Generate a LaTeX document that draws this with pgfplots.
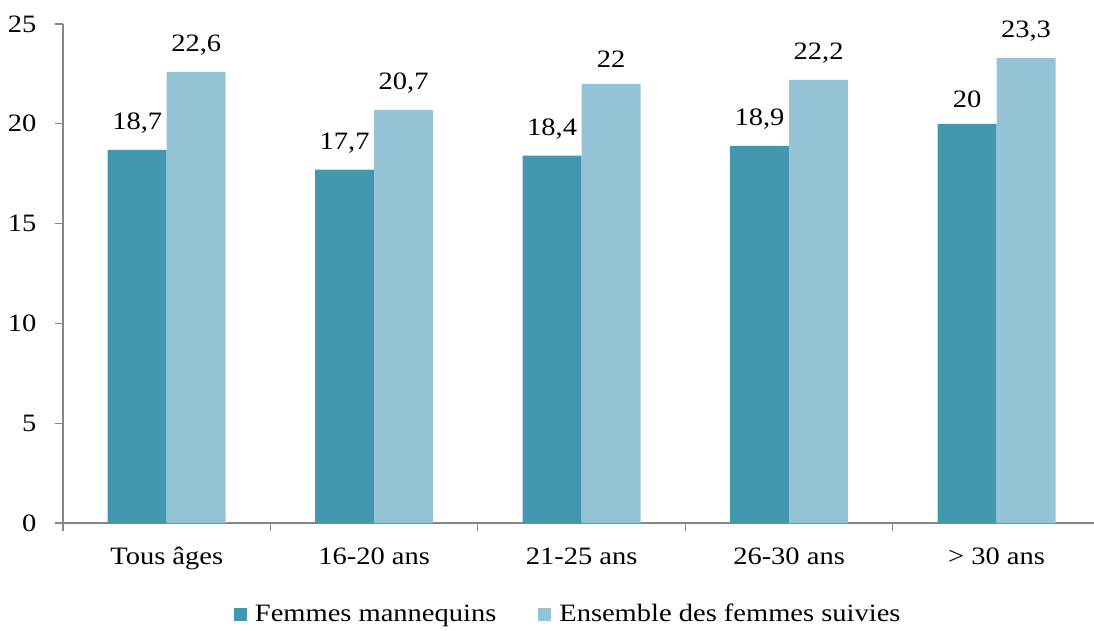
\documentclass[border=0pt]{standalone}
\usepackage{pgfplots}
\pgfplotsset{compat=1.18}
\usepackage{fontspec}
\setmainfont[FakeStretch=1.14]{Liberation Serif}
\definecolor{darkb}{RGB}{67,152,176}
\definecolor{lightb}{RGB}{147,195,213}
\definecolor{axgray}{RGB}{134,134,134}
\begin{document}
\fontsize{25}{30}\selectfont
\begin{tikzpicture}
\useasboundingbox (-63pt,-107pt) rectangle (1031pt,523pt);
\begin{axis}[
  at={(0pt,0pt)}, anchor=south west,
  scale only axis,
  width=1031pt, height=499pt,
  ybar=0pt, bar width=59pt,
  xmin=-0.5, xmax=4.47,
  ymin=0, ymax=25,
  ytick={0,5,10,15,20,25},
  xtick={-0.5,0.5,1.5,2.5,3.5},
  xticklabels={},
  extra x ticks={0,1,2,3,4},
  extra x tick labels={Tous âges,16-20 ans,21-25 ans,26-30 ans,{> 30 ans}},
  extra x tick style={major tick length=0pt, xticklabel style={yshift=-16pt}},
  every tick/.style={axgray, line width=1.2pt},
  major tick length=8pt,
  tick align=outside,
  axis x line*=bottom, axis y line*=left,
  axis line style={axgray, line width=1.2pt, -},
  /pgf/number format/assume math mode=true,
  /pgf/number format/use comma,
  ticklabel style={font=\fontsize{25}{30}\selectfont, black},
  yticklabel style={xshift=-10pt},
  nodes near coords,
  nodes near coords style={font=\fontsize{25}{30}\selectfont, yshift=8pt, /pgf/number format/use comma},
  legend style={draw=none, at={(0.49,-0.184)}, anchor=center, legend columns=2,
    font=\fontsize{25}{30}\selectfont, /tikz/every even column/.append style={column sep=40pt}},
  legend image code/.code={\fill[#1] (0pt,-6.5pt) rectangle (13pt,6.5pt); \path (19pt,0pt);},
]
\addplot[fill=darkb, draw=none] coordinates {(0,18.7) (1,17.7) (2,18.4) (3,18.9) (4,20)};
\addplot[fill=lightb, draw=none] coordinates {(0,22.6) (1,20.7) (2,22) (3,22.2) (4,23.3)};
\legend{Femmes mannequins, Ensemble des femmes suivies}
\end{axis}
\end{tikzpicture}
\end{document}
